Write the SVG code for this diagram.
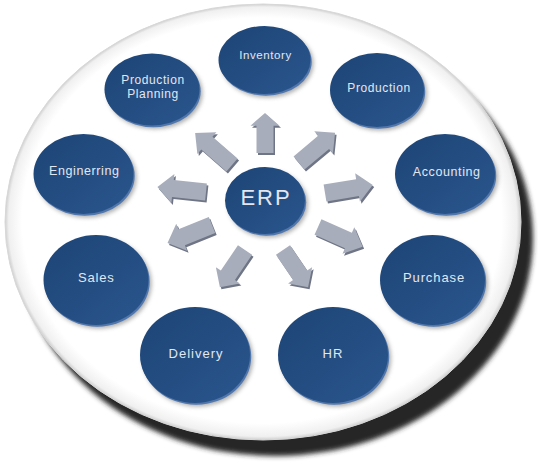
<svg xmlns="http://www.w3.org/2000/svg" width="538" height="463" viewBox="0 0 538 463">
<defs>
  <style>
    .lbl { font-family: "Liberation Sans", Arial, sans-serif; fill: #e3e7ef; text-anchor: middle; letter-spacing: 0.6px; }
    .nshadow { fill: #6a6a6a; opacity: 0.55; filter: url(#nblur); }
    .nrim { fill: #5177ad; }
    .nface { fill: url(#faceGrad); }
  </style>
  <filter id="dblur" x="-20%" y="-20%" width="140%" height="140%"><feGaussianBlur stdDeviation="2.5"/></filter>
  <filter id="nblur" x="-30%" y="-30%" width="160%" height="160%"><feGaussianBlur stdDeviation="2"/></filter>
  <radialGradient id="discGrad" cx="0.5" cy="0.5" r="0.5" fx="0.47" fy="0.45">
    <stop offset="0.93" stop-color="#ffffff"/>
    <stop offset="0.985" stop-color="#f0f0f0"/>
    <stop offset="1" stop-color="#cfcfcf"/>
  </radialGradient>
  <linearGradient id="faceGrad" x1="0" y1="0" x2="1" y2="1">
    <stop offset="0" stop-color="#1d4475"/>
    <stop offset="1" stop-color="#2a568e"/>
  </linearGradient>
  <path id="arr" d="M0,-8.5 L30,-8.5 L30,-14.5 L44,0 L30,14.5 L30,8.5 L0,8.5 Z"/>
</defs>

<g id="disc">
  <ellipse cx="275" cy="238" rx="258" ry="218" fill="#262626" filter="url(#dblur)"/>
  <ellipse cx="263" cy="222" rx="258" ry="218" fill="url(#discGrad)" stroke="#d8d8d8" stroke-width="1"/>
</g>

<g id="connectors">
  <g transform="translate(1.5,2)" fill="#6f7585">
    <use href="#arr" transform="translate(265,153) rotate(-90) scale(0.91,1)"/>
    <use href="#arr" transform="translate(232,165) rotate(-139) scale(1.11,1)"/>
    <use href="#arr" transform="translate(299,163) rotate(-40) scale(1.07,1)"/>
    <use href="#arr" transform="translate(206,192) rotate(-174) scale(1.11,1)"/>
    <use href="#arr" transform="translate(325,193) rotate(-9.5) scale(1.1,1)"/>
    <use href="#arr" transform="translate(212,225) rotate(158) scale(1.09,1)"/>
    <use href="#arr" transform="translate(318,227) rotate(24) scale(1.11,1)"/>
    <use href="#arr" transform="translate(245,250) rotate(124) scale(1.02,1)"/>
    <use href="#arr" transform="translate(283,250) rotate(56) scale(1.02,1)"/>
  </g>
  <g fill="#a8adbb">
    <use href="#arr" transform="translate(265,153) rotate(-90) scale(0.91,1)"/>
    <use href="#arr" transform="translate(232,165) rotate(-139) scale(1.11,1)"/>
    <use href="#arr" transform="translate(299,163) rotate(-40) scale(1.07,1)"/>
    <use href="#arr" transform="translate(206,192) rotate(-174) scale(1.11,1)"/>
    <use href="#arr" transform="translate(325,193) rotate(-9.5) scale(1.1,1)"/>
    <use href="#arr" transform="translate(212,225) rotate(158) scale(1.09,1)"/>
    <use href="#arr" transform="translate(318,227) rotate(24) scale(1.11,1)"/>
    <use href="#arr" transform="translate(245,250) rotate(124) scale(1.02,1)"/>
    <use href="#arr" transform="translate(283,250) rotate(56) scale(1.02,1)"/>
  </g>
</g>

<g id="erp">
  <ellipse class="nshadow" cx="268" cy="204" rx="40" ry="33.5"/>
  <ellipse class="nrim" cx="266.2" cy="202.2" rx="40" ry="33.5"/>
  <ellipse class="nface" cx="265" cy="200.5" rx="40" ry="33.5"/>
  <text class="lbl" x="266" y="205" font-size="22" style="letter-spacing:2px">ERP</text>
</g>

<g id="inventory">
  <ellipse class="nshadow" cx="267.5" cy="63.5" rx="46" ry="34"/>
  <ellipse class="nrim" cx="265.7" cy="61.7" rx="46" ry="34"/>
  <ellipse class="nface" cx="264.5" cy="60" rx="46" ry="34"/>
  <text class="lbl" x="265.5" y="59" font-size="11.5">Inventory</text>
</g>

<g id="production-planning">
  <ellipse class="nshadow" cx="155" cy="93" rx="47.5" ry="36"/>
  <ellipse class="nrim" cx="153.2" cy="91.2" rx="47.5" ry="36"/>
  <ellipse class="nface" cx="152" cy="89.5" rx="47.5" ry="36"/>
  <text class="lbl" x="153" y="84" font-size="12">Production</text>
  <text class="lbl" x="153" y="97.5" font-size="12">Planning</text>
</g>

<g id="production">
  <ellipse class="nshadow" cx="380" cy="93.5" rx="47" ry="37"/>
  <ellipse class="nrim" cx="378.2" cy="91.7" rx="47" ry="37"/>
  <ellipse class="nface" cx="377" cy="90" rx="47" ry="37"/>
  <text class="lbl" x="379" y="91.5" font-size="12">Production</text>
</g>

<g id="engineering">
  <ellipse class="nshadow" cx="86.5" cy="177.5" rx="50" ry="40"/>
  <ellipse class="nrim" cx="84.7" cy="175.7" rx="50" ry="40"/>
  <ellipse class="nface" cx="83.5" cy="174" rx="50" ry="40"/>
  <text class="lbl" x="84.3" y="175" font-size="12.5">Enginerring</text>
</g>

<g id="accounting">
  <ellipse class="nshadow" cx="448" cy="177.5" rx="50" ry="40"/>
  <ellipse class="nrim" cx="446.2" cy="175.7" rx="50" ry="40"/>
  <ellipse class="nface" cx="445" cy="174" rx="50" ry="40"/>
  <text class="lbl" x="446.7" y="176" font-size="12.5">Accounting</text>
</g>

<g id="sales">
  <ellipse class="nshadow" cx="99" cy="283.5" rx="52.5" ry="45"/>
  <ellipse class="nrim" cx="97.2" cy="281.7" rx="52.5" ry="45"/>
  <ellipse class="nface" cx="96" cy="280" rx="52.5" ry="45"/>
  <text class="lbl" x="96.3" y="281.7" font-size="13" style="letter-spacing:0.8px">Sales</text>
</g>

<g id="purchase">
  <ellipse class="nshadow" cx="435.5" cy="283.5" rx="52.5" ry="45"/>
  <ellipse class="nrim" cx="433.7" cy="281.7" rx="52.5" ry="45"/>
  <ellipse class="nface" cx="432.5" cy="280" rx="52.5" ry="45"/>
  <text class="lbl" x="434" y="281.7" font-size="13" style="letter-spacing:0.9px">Purchase</text>
</g>

<g id="delivery">
  <ellipse class="nshadow" cx="198" cy="358.5" rx="55" ry="48"/>
  <ellipse class="nrim" cx="196.2" cy="356.7" rx="55" ry="48"/>
  <ellipse class="nface" cx="195" cy="355" rx="55" ry="48"/>
  <text class="lbl" x="196" y="357.7" font-size="13" style="letter-spacing:1px">Delivery</text>
</g>

<g id="hr">
  <ellipse class="nshadow" cx="336" cy="358.5" rx="55" ry="48"/>
  <ellipse class="nrim" cx="334.2" cy="356.7" rx="55" ry="48"/>
  <ellipse class="nface" cx="333" cy="355" rx="55" ry="48"/>
  <text class="lbl" x="333" y="357.7" font-size="13" style="letter-spacing:1px">HR</text>
</g>
</svg>
